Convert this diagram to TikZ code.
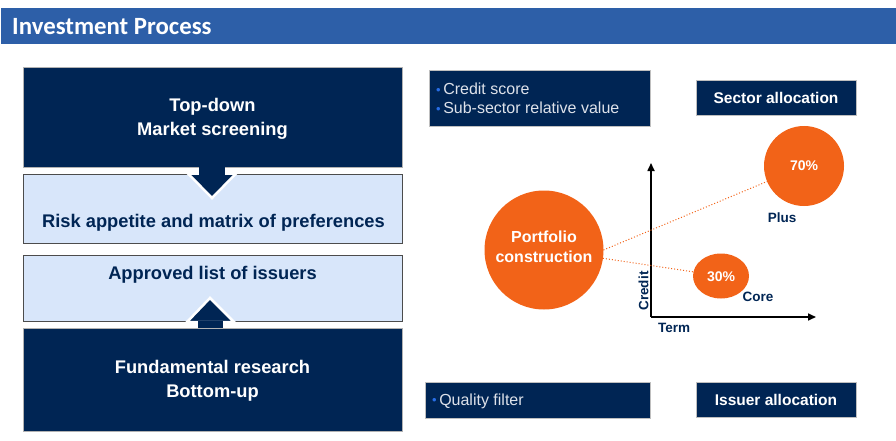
\documentclass[tikz,border=0pt]{standalone}
\usepackage{fontspec}
\setmainfont{Liberation Sans}
\newfontfamily\hdrfont{Carlito}
\usetikzlibrary{arrows.meta,shapes.geometric}
\definecolor{navy}{RGB}{0,37,84}
\definecolor{lightfill}{RGB}{216,230,250}
\definecolor{hdrblue}{RGB}{45,95,168}
\definecolor{orng}{RGB}{242,99,24}
\definecolor{bulletblue}{RGB}{40,110,230}
\definecolor{paletext}{RGB}{222,226,234}
\newcommand{\bdot}{{\color{bulletblue}\fontsize{13}{19}\selectfont\raisebox{0.5pt}{•}}\hspace{2.5pt}}
\begin{document}
\begin{tikzpicture}[x=1pt,y=-1pt,
  darkbox/.style={draw=gray!60,line width=0.8pt,fill=navy,inner sep=0pt,outer sep=0pt},
  lightbox/.style={draw=black!70,line width=0.8pt,fill=lightfill,inner sep=0pt,outer sep=0pt},
  bigtxt/.style={font=\bfseries\fontsize{18.3}{24}\selectfont,align=center,inner sep=0pt},
  rtbox/.style={draw=gray!50,line width=0.6pt,fill=navy,inner sep=0pt,outer sep=0pt},
  rttxt/.style={font=\bfseries\fontsize{15.5}{19}\selectfont,text=white,inner sep=0pt},
  bubble/.style={fill=orng,draw=none,inner sep=0pt,outer sep=0pt},
  axlabel/.style={font=\bfseries\fontsize{13.5}{16}\selectfont,text=navy,inner sep=0pt},
  link/.style={draw=orng,line width=1pt,dotted},
  axis/.style={line width=1.6pt,-{Triangle[width=7pt,length=8pt]}}]
\useasboundingbox (0,0) rectangle (896,441);
% header
\node[fill=hdrblue,minimum width=895pt,minimum height=36pt,inner sep=0pt,anchor=north west] (hdr) at (1,8) {};
\node[anchor=west,text=white,font=\hdrfont\bfseries\fontsize{24.8}{26}\selectfont,inner sep=0pt] (hdrtxt) at (12,26.5) {Investment Process};
% left column boxes
\node[darkbox,minimum width=379pt,minimum height=100pt] (top) at (212.5,117) {};
\node[lightbox,minimum width=379pt,minimum height=69pt] (risk) at (212.5,208.5) {};
\node[lightbox,minimum width=379pt,minimum height=66pt] (appr) at (212.5,288) {};
\node[darkbox,minimum width=379pt,minimum height=103pt] (fund) at (212.5,379.5) {};
% down arrow
\coordinate (dA) at (212,198);
\fill[navy,draw=white,line width=2.5pt,line join=miter] (188,173.5) -- (236,173.5) -- (dA) -- cycle;
\fill[navy] (199,166.6) rectangle (225,175);
% up arrow
\coordinate (uA) at (210,298);
\fill[navy,draw=white,line width=2.5pt,line join=miter] (187,322) -- (234,322) -- (uA) -- cycle;
\fill[navy] (197.5,320.5) rectangle (223,328.4);
% left texts
\node[bigtxt,text=white] (toptxt) at (212.5,119) {Top-down\\Market screening};
\node[bigtxt,text=navy] (risktxt) at (213.5,223) {Risk appetite and matrix of preferences};
\node[bigtxt,text=navy] (apprtxt) at (212.5,275) {Approved list of issuers};
\node[bigtxt,text=white] (fundtxt) at (212.5,381) {Fundamental research\\Bottom-up};
% right boxes
\node[rtbox,minimum width=221pt,minimum height=56pt] (crit) at (539.5,98) {};
\node[anchor=west,align=left,inner sep=0pt,text=paletext,font=\fontsize{16}{19}\selectfont] (crittxt) at (436,98.5)
  {\bdot Credit score\\\bdot Sub-sector relative value};
\node[rtbox,minimum width=160pt,minimum height=35pt] (sect) at (776,97.5) {};
\node[rttxt] (secttxt) at (776,98) {Sector allocation};
\node[rtbox,minimum width=225pt,minimum height=36pt] (qual) at (537.5,400) {};
\node[anchor=west,inner sep=0pt,text=paletext,font=\fontsize{16}{19}\selectfont] (qualtxt) at (432,401)
  {\bdot Quality filter};
\node[rtbox,minimum width=160pt,minimum height=35pt] (issu) at (776,399.5) {};
\node[rttxt] (issutxt) at (776,400) {Issuer allocation};
% axes
\coordinate (O) at (651,317);
\coordinate (Ytip) at (651,163);
\coordinate (Xtip) at (816,317);
\draw[axis] (O) -- (Ytip);
\draw[axis] (O) -- (Xtip);
\node[axlabel,rotate=90] (credit) at (643.5,291) {Credit};
\node[axlabel] (term) at (674,328) {Term};
% bubbles
\node[bubble,circle,minimum size=119pt] (pc) at (544,250) {};
\node[font=\bfseries\fontsize{16}{20}\selectfont,text=white,align=center,inner sep=0pt] (pctxt) at (544,247) {Portfolio\\construction};
\node[bubble,circle,minimum size=80pt] (p70) at (804,166) {};
\node[font=\bfseries\fontsize{14}{16}\selectfont,text=white,inner sep=0pt] (p70txt) at (804,166) {70\%};
\node[bubble,ellipse,minimum width=56pt,minimum height=45pt] (p30) at (721,276) {};
\node[font=\bfseries\fontsize{14}{16}\selectfont,text=white,inner sep=0pt] (p30txt) at (721,277) {30\%};
\node[axlabel] (plus) at (782,218) {Plus};
\node[axlabel] (core) at (758,297) {Core};
% links
\draw[link] (pc.east) -- (p70);
\draw[link] (pc.-8) -- (p30);
\end{tikzpicture}
\end{document}
